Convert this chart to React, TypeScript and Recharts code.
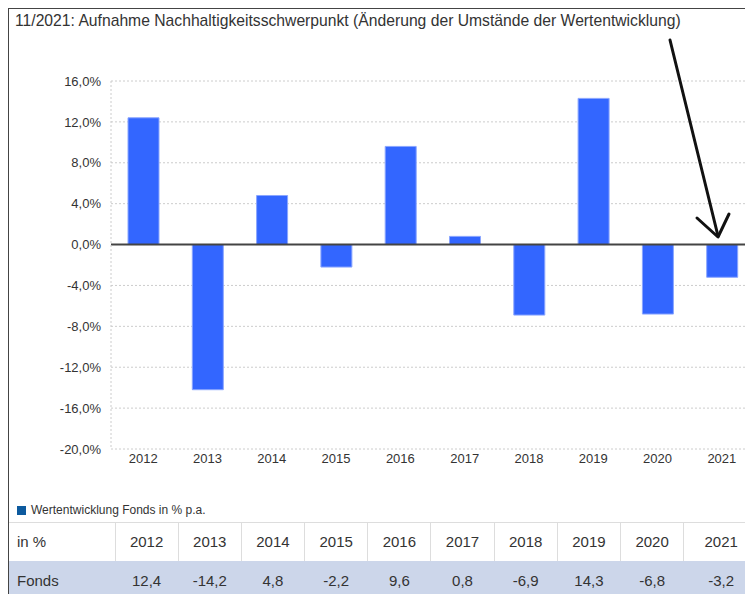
import React from 'react';
import {
  BarChart,
  Bar,
  XAxis,
  YAxis,
  CartesianGrid,
  ReferenceLine,
} from 'recharts';

const years = ['2012', '2013', '2014', '2015', '2016', '2017', '2018', '2019', '2020', '2021'];
const fonds = [12.4, -14.2, 4.8, -2.2, 9.6, 0.8, -6.9, 14.3, -6.8, -3.2];
const yTicks = [-20, -16, -12, -8, -4, 0, 4, 8, 12, 16];

const TITLE = '11/2021:  Aufnahme Nachhaltigkeitsschwerpunkt (Änderung der Umstände der Wertentwicklung)';
const LEGEND = 'Wertentwicklung Fonds in % p.a.';

const FONT = '"Liberation Sans", Arial, sans-serif';
const TEXT = '#333';

const chartData = years.map((y, i) => ({ year: y, value: fonds[i] }));

// German style: 12,4
const fmtPct = (v: number) => `${v.toFixed(1).replace('.', ',')}%`;
const fmtNum = (v: number) => v.toFixed(1).replace('.', ',');

export default function App() {
  const cell: React.CSSProperties = {
    textAlign: 'center',
    borderRight: '1px solid #ddd',
    padding: 0,
  };

  return (
    <div
      style={{
        position: 'relative',
        width: 760,
        height: 600,
        borderTop: '1px solid #444',
        borderLeft: '1px solid #444',
        fontFamily: FONT,
        color: TEXT,
        overflow: 'hidden',
        boxSizing: 'border-box',
      }}
    >
      <div style={{ position: 'absolute', left: 6, top: 3, fontSize: 15.7, whiteSpace: 'nowrap' }}>
        {TITLE}
      </div>

      <div style={{ position: 'absolute', left: 0, top: 41 }}>
        <BarChart
          width={745}
          height={430}
          data={chartData}
          margin={{ top: 31, right: 0, bottom: 0, left: 0 }}
        >
          <CartesianGrid
            vertical={false}
            stroke="#ccc"
            strokeDasharray="2 2"
          />
          <XAxis
            dataKey="year"
            height={31}
            axisLine={false}
            tickLine={false}
            tickSize={0}
            tickMargin={5}
            tick={{ fontSize: 13, fill: TEXT, fontFamily: FONT }}
          />
          <YAxis
            domain={[-20, 16]}
            ticks={yTicks}
            interval={0}
            width={102}
            tickLine={false}
            axisLine={{ stroke: '#ccc', strokeDasharray: '2 2' }}
            tickMargin={4}
            tickFormatter={fmtPct}
            tick={{ fontSize: 13, fill: TEXT, fontFamily: FONT }}
          />
          <Bar
            dataKey="value"
            fill="#3366ff"
            stroke="#8aa6ff"
            strokeWidth={1}
            barSize={31}
            isAnimationActive={false}
          />
          <ReferenceLine y={0} stroke="#444" strokeWidth={2} />
        </BarChart>
      </div>

      {/* hand-drawn arrow pointing at 2021 */}
      <svg
        width={760}
        height={600}
        style={{ position: 'absolute', left: -9, top: -9, pointerEvents: 'none' }}
      >
        <g stroke="#111" strokeWidth={3} fill="none" strokeLinecap="round" strokeLinejoin="round">
          <line x1={670} y1={40} x2={718} y2={236} />
          <polyline points="697,218 718,237 729,214" />
        </g>
      </svg>

      <div
        style={{
          position: 'absolute',
          left: 8,
          top: 494,
          fontSize: 12,
          display: 'flex',
          alignItems: 'center',
          whiteSpace: 'nowrap',
        }}
      >
        <span style={{ display: 'inline-block', width: 9, height: 9, background: '#0d5a9e', marginRight: 5 }} />
        {LEGEND}
      </div>

      <table
        style={{
          position: 'absolute',
          left: 0,
          top: 513,
          borderCollapse: 'collapse',
          tableLayout: 'fixed',
          width: 750,
          fontSize: 15,
          fontFamily: FONT,
          color: TEXT,
        }}
      >
        <colgroup>
          <col style={{ width: 106 }} />
          {years.map((y, i) => (
            <col key={y} style={{ width: i === years.length - 1 ? 75 : 63.2 }} />
          ))}
        </colgroup>
        <tbody>
          <tr style={{ height: 38, borderTop: '1px solid #ddd' }}>
            <td style={{ ...cell, textAlign: 'left', paddingLeft: 8 }}>in %</td>
            {years.map((y) => (
              <td key={y} style={cell}>{y}</td>
            ))}
          </tr>
          <tr style={{ height: 40, background: '#ccd6ea' }}>
            <td style={{ ...cell, textAlign: 'left', paddingLeft: 8, borderRight: 'none' }}>Fonds</td>
            {fonds.map((v, i) => (
              <td key={years[i]} style={{ ...cell, borderRight: 'none' }}>{fmtNum(v)}</td>
            ))}
          </tr>
        </tbody>
      </table>
    </div>
  );
}
